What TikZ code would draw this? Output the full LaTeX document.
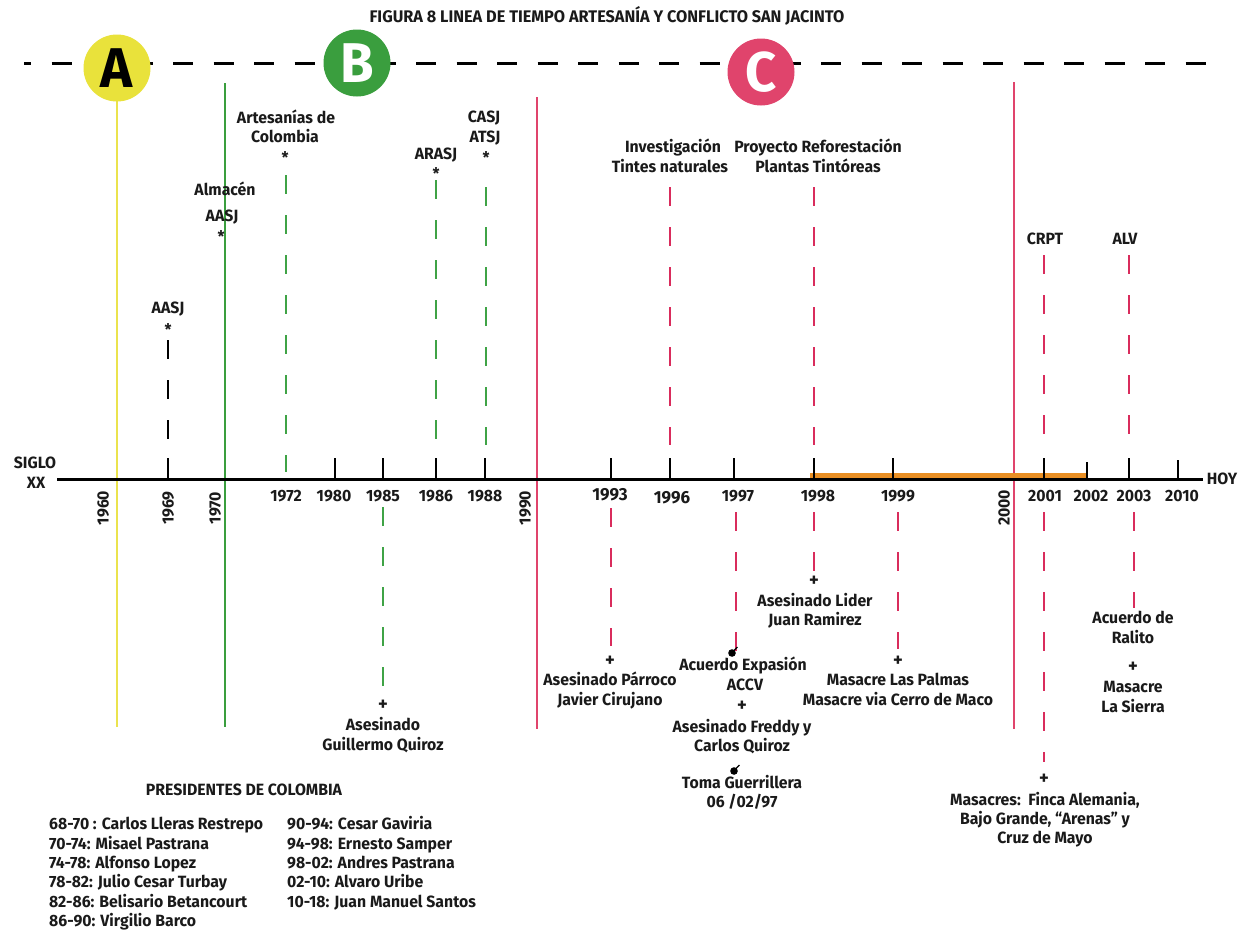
\documentclass[tikz,border=0pt]{standalone}
\usepackage{fontspec}
\setmainfont{Fira Sans}[BoldFont={Fira Sans Bold}, FakeStretch=0.97]
\definecolor{cyel}{HTML}{E9E23B}
\definecolor{cyelline}{HTML}{EBE34E}
\definecolor{cgreen}{HTML}{3A9E3E}
\definecolor{cgreendash}{HTML}{3FA346}
\definecolor{cpink}{HTML}{E0446C}
\definecolor{cpinkdash}{HTML}{D92C5C}
\definecolor{corange}{HTML}{E98F24}
\definecolor{ctext}{HTML}{1A1A1A}
\newcommand\mylab[4]{\node[lbl] (#1) at (#2,#3) {#4};}
\newcommand\myast[3]{\node[astx] (#1) at (#2,#3) {*};}
\newcommand\myplus[3]{\node[plusx] (#1) at (#2,#3) {+};}
\newcommand\evline[5]{\coordinate (#1s) at (#3,#4); \coordinate (#1e) at (#3,#5); \draw[evdash,#2] (#1s) -- (#1e);}
\newcommand\mytick[3]{\coordinate (#1t) at (#2,#3); \coordinate (#1b) at (#2,479); \draw[tickx] (#1t) -- (#1b);}
\newcommand\mybomb[3]{\coordinate (#1) at (#2,#3); \fill[black] (#1) circle (3.8pt); \draw[line width=1.3pt] ([shift={(2,-2.5)}]#1) -- ([shift={(5.5,-6)}]#1);}
\begin{document}
\begin{tikzpicture}[x=1pt,y=-1pt,
  lbl/.style={font=\fontsize{16.3}{19}\selectfont\bfseries, text=ctext, inner sep=0pt, text height=11.2pt, text depth=0pt, anchor=center},
  astx/.style={font=\fontsize{16}{18}\selectfont\bfseries, text=ctext, inner sep=0pt, text height=11pt, text depth=0pt, anchor=center},
  plusx/.style={font=\fontsize{19}{20}\selectfont\bfseries, text=ctext, inner sep=0pt, anchor=center},
  evdash/.style={line width=2.9pt, dash pattern=on 19pt off 21pt},
  tickx/.style={line width=2.6pt, black},
  solidv/.style={line width=2.7pt},
  bigcirc/.style={circle, inner sep=0pt, minimum size=67pt, font=\fontsize{56}{56}\selectfont\bfseries}
]
\path[use as bounding box, fill=white] (0,0) rectangle (1243,930);

% title
\node[font=\fontsize{16.8}{18}\selectfont\bfseries, text=ctext, inner sep=0pt, text height=10pt, text depth=0pt] (title) at (607,17) {FIGURA 8 LINEA DE TIEMPO ARTESANÍA Y CONFLICTO SAN JACINTO};

% top dashed line
\coordinate (topL) at (24,63);
\coordinate (topR) at (1222,63);
\draw[line width=3pt, black, dash pattern=on 20pt off 20.5pt, dash phase=13pt] (topL) -- (topR);

% period vertical lines
\coordinate (vAt) at (117,97); \coordinate (vAb) at (117,727);
\coordinate (vBt) at (225,83); \coordinate (vBb) at (225,727);
\coordinate (vCt) at (537,97); \coordinate (vCb) at (537,729);
\coordinate (vDt) at (1014,82); \coordinate (vDb) at (1014,729);
\draw[solidv, cyelline] (vAt) -- (vAb);
\draw[solidv, cgreen] (vBt) -- (vBb);
\draw[solidv, cpink] (vCt) -- (vCb);
\draw[solidv, cpink] (vDt) -- (vDb);

% circles
\node[bigcirc, fill=cyel, text=black] (cA) at (117,68) {A};
\node[bigcirc, fill=cgreen, text=white] (cB) at (357,63) {B};
\node[bigcirc, fill=cpink, text=white] (cC) at (761,72) {C};

% axis
\coordinate (axL) at (57,479);
\coordinate (axR) at (1203,479);
\draw[line width=3pt, black] (axL) -- (axR);
\coordinate (orL) at (810,475.5);
\coordinate (orR) at (1088,475.5);
\draw[line width=5pt, corange] (orL) -- (orR);

% ticks
\mytick{k69}{168}{458}
\mytick{k80}{335}{458}
\mytick{k85}{383}{458}
\mytick{k86}{436}{458}
\mytick{k88}{485}{458}
\mytick{k93}{611}{458}
\mytick{k96}{670}{458}
\mytick{k97}{734}{458}
\mytick{k98}{814}{458}
\mytick{k99}{893}{458}
\mytick{k01}{1044}{458}
\mytick{k02}{1087}{462}
\mytick{k03}{1129}{458}
\mytick{k10}{1178}{460}

% event dashed lines above axis
\evline{u69}{black}{168}{340}{440}
\evline{u72}{cgreendash}{286}{175}{472}
\evline{u86}{cgreendash}{436}{180}{440}
\evline{u88}{cgreendash}{486}{187}{445}
\evline{u96}{cpinkdash}{670}{187}{445}
\evline{u98}{cpinkdash}{814}{187}{445}
\evline{u01}{cpinkdash}{1044}{255}{435}
\evline{u03}{cpinkdash}{1129}{255}{435}

% event dashed lines below axis
\evline{d85}{cgreendash}{383}{507}{687}
\evline{d93}{cpinkdash}{611}{508}{646}
\evline{d97}{cpinkdash}{736}{512}{651}
\evline{d98}{cpinkdash}{814}{512}{571}
\evline{d99}{cpinkdash}{898}{512}{649}
\evline{d01}{cpinkdash}{1044}{512}{762}
\evline{d03}{cpinkdash}{1134}{512}{608}

% axis labels
\mylab{siglo}{35}{463}{SIGLO}
\mylab{xx}{36}{483}{XX}
\mylab{hoy}{1222}{479}{HOY}

% horizontal years
\mylab{y72}{286}{496}{1972}
\mylab{y80}{334}{496}{1980}
\mylab{y85}{383}{496}{1985}
\mylab{y86}{436}{496}{1986}
\mylab{y88}{485}{496}{1988}
\node[lbl, font=\fontsize{17.5}{19}\selectfont\bfseries] (y93) at (610,495) {1993};
\node[lbl, font=\fontsize{17.5}{19}\selectfont\bfseries] (y96) at (672,498) {1996};
\mylab{y97}{738}{496}{1997}
\mylab{y98}{818}{496}{1998}
\mylab{y99}{898}{496}{1999}
\mylab{y01}{1045}{496}{2001}
\mylab{y02}{1091}{496}{2002}
\mylab{y03}{1134}{496}{2003}
\mylab{y10}{1182}{496}{2010}

% rotated years
\node[lbl, rotate=90] (r60) at (103,508) {1960};
\node[lbl, rotate=90] (r69) at (168,508) {1969};
\node[lbl, rotate=90] (r70) at (215,508) {1970};
\node[lbl, rotate=90] (r90) at (525,508) {1990};
\node[lbl, rotate=90] (r00) at (1004,508) {2000};

% labels above
\mylab{a69}{168}{308}{AASJ}
\myast{s69}{168}{330}
\mylab{alm}{225}{190}{Almacén}
\mylab{a70}{222}{216}{AASJ}
\myast{s70}{221}{237}
\mylab{art1}{286}{118}{Artesanías de}
\mylab{art2}{285}{137}{Colombia}
\myast{s72}{285}{158}
\mylab{arasj}{436}{154}{ARASJ}
\myast{s86}{436}{174}
\mylab{casj}{484}{117}{CASJ}
\mylab{atsj}{485}{137}{ATSJ}
\myast{s88}{486}{158}
\mylab{inv1}{673}{147}{Investigación}
\mylab{inv2}{670}{167}{Tintes naturales}
\mylab{pro1}{818}{147}{Proyecto Reforestación}
\mylab{pro2}{818}{167}{Plantas Tintóreas}
\mylab{crpt}{1045}{239}{CRPT}
\mylab{alv}{1125}{239}{ALV}

% labels below
\myplus{p85}{383}{705}
\mylab{g1}{383}{725}{Asesinado}
\mylab{g2}{383}{745}{Guillermo Quiroz}
\myplus{p93}{610}{661}
\mylab{j1}{610}{680}{Asesinado Párroco}
\mylab{j2}{610}{700}{Javier Cirujano}
\mybomb{b97a}{732}{653}
\mylab{ac1}{743}{665}{Acuerdo Expasión}
\mylab{ac2}{745}{685}{ACCV}
\myplus{p97}{742}{706}
\mylab{fr1}{742}{727}{Asesinado Freddy y}
\mylab{fr2}{742}{746}{Carlos Quiroz}
\mybomb{b97b}{734}{771}
\mylab{tg1}{742}{783}{Toma Guerrillera}
\mylab{tg2}{742}{802}{06 /02/97}
\myplus{p98}{814}{581}
\mylab{jr1}{815}{601}{Asesinado Lider}
\mylab{jr2}{815}{620}{Juan Ramirez}
\myplus{p99}{898}{661}
\mylab{lp1}{898}{680}{Masacre Las Palmas}
\mylab{lp2}{898}{700}{Masacre via Cerro de Maco}
\myplus{p01}{1044}{779}
\mylab{ms1}{1045}{800}{Masacres:\ \ Finca Alemania,}
\mylab{ms2}{1045}{819}{Bajo Grande, “Arenas” y}
\mylab{ms3}{1045}{838}{Cruz de Mayo}
\mylab{ra1}{1133}{618}{Acuerdo de}
\mylab{ra2}{1133}{638}{Ralito}
\myplus{p03}{1133}{667}
\mylab{ls1}{1133}{687}{Masacre}
\mylab{ls2}{1133}{707}{La Sierra}

% presidents
\mylab{pres}{244}{790}{PRESIDENTES DE COLOMBIA}
\foreach \t [count=\i] in {68-70 : Carlos Lleras Restrepo, 70-74: Misael Pastrana, 74-78: Alfonso Lopez, 78-82: Julio Cesar Turbay, 82-86: Belisario Betancourt, 86-90: Virgilio Barco}
  \node[lbl, anchor=west] (pl\i) at (49,{824+19.4*(\i-1)}) {\t};
\foreach \t [count=\i] in {90-94: Cesar Gaviria, 94-98: Ernesto Samper, 98-02: Andres Pastrana, 02-10: Alvaro Uribe, 10-18: Juan Manuel Santos}
  \node[lbl, anchor=west] (pr\i) at (287,{824+19.4*(\i-1)}) {\t};
\end{tikzpicture}
\end{document}
